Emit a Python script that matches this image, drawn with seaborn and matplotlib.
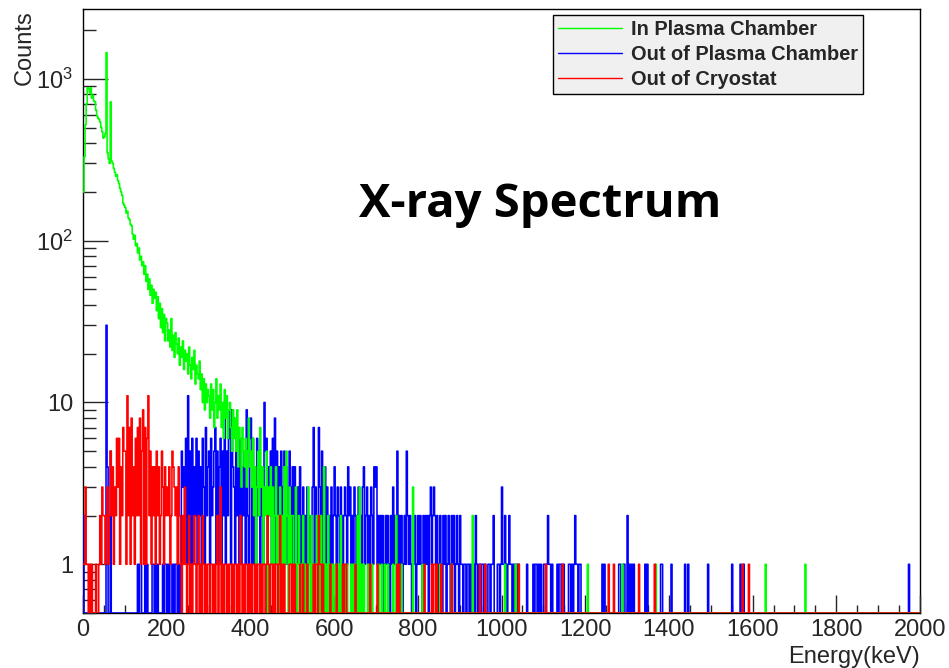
import numpy as np
import matplotlib
matplotlib.use("Agg")
import matplotlib.pyplot as plt
import seaborn as sns
from matplotlib.lines import Line2D
from matplotlib.ticker import FixedLocator, MultipleLocator, NullFormatter

# histogram binning (keV)
bin_width = 2.5
energy_max = 2000

# counts per 2.5 keV bin.
# dense parts: base-36 digit strings, one char per bin (a=10, b=11, u=30)
# sparse parts: lists of (energy, counts)

# In Plasma Chamber
green_head = [200, 330, 520, 700, 880, 870, 820, 880, 760, 790,      # 0-25
              730, 720, 640, 590, 570, 560, 540, 500, 470, 430,      # 25-50
              440, 460, 1450, 350, 320, 300, 720, 310, 300, 280,     # 50-75
              265, 250, 255, 235, 225, 210, 200, 190, 170, 165,      # 75-100
              160, 148, 152, 138, 135, 126, 124, 110, 102, 108,
              93, 96, 84, 90, 76, 80, 70, 74, 62, 70,
              56, 62, 50, 58, 46, 53, 41, 50, 44, 48,
              37, 45, 33, 41, 29, 38, 27, 35, 24, 33,                # 175-200
              31, 24, 28, 22, 33, 21, 26, 19, 27, 23,
              20, 25, 17, 22, 19, 24, 16, 21, 18, 20,
              15, 22, 17, 14, 19, 16, 21, 13, 17, 15,
              14, 18, 12, 15, 10, 14, 9, 13, 10, 12]                 # 275-300
green_dense = ["b8d9c7ae8b9d7a6c8b69a7596859476375463584",   # 300-400
               "5362413527341325032413024120312041520312",   # 400-500
               "2013012010210103102010120102104010201101"]   # 500-600
green_event_e = [605, 612, 617, 625, 632, 640, 647, 650, 655, 660, 665, 672,
                 680, 690, 705, 713, 722, 728, 742, 748, 760, 789, 812, 853,
                 880, 930, 1009, 1034, 1205, 1288, 1369, 1630, 1725]
green_event_n = [1, 1, 2, 1, 1, 1, 1, 1, 2, 3, 1, 1,
                 1, 1, 1, 1, 1, 1, 1, 2, 1, 3, 1, 1,
                 1, 2, 1, 1, 1, 1, 1, 1, 1]

# Out of Plasma Chamber
blue_dense = ["2000000000000000000000u40050000000000000",                          # 0-100
              "0000000000001011000101000011010100001011",                          # 100-200
              "0101101011010" "153" "4161" "b1" "516142" "61524163" "1724",        # 200-300
              "516235" "71514" "615" "2a1" "526" "9194" "315261" "6142" "5192" "16",
              "8161" "41625142" "1a5" "614251" "618" "15241513" "51412531",        # 400-500
              "4142131412" "31213121" "13" "71" "31" "17" "3151" "141312" "1312",
              "4213" "21321232" "142" "3121321231213" "41" "231213" "2143",        # 600-700
              "4121212012121021" "31" "21" "51" "21201215" "2121021201",
              "212102121202" "31" "23" "212012102120121021201210",                 # 800-900
              "21" "1011011010110" "21" "01101101" "00" "11011" "2" "000" "1101",
              "3" "11" "2" "101" "2" "1101" "011010" "000000100000" "10110101" "00",
              "1101" "21" "101" "0000" "1011011" "0000" "110101" "2" "11011" "0000"]
blue_event_e = [1240, 1247, 1280, 1284, 1290, 1294, 1300, 1305, 1310, 1315,
                1343, 1348, 1380, 1384, 1405, 1438, 1446, 1493, 1551, 1570,
                1579, 1974]
blue_event_n = [1, 1, 1, 1, 1, 1, 2, 1, 1, 1,
                1, 1, 1, 1, 1, 1, 1, 1, 1, 1,
                1, 1]

# Out of Cryostat
red_dense = ["11" "31" "10101" "000100" "12132" "212312" "524132" "63614275",             # 0-100
             "51b2" "7182" "4162" "7281" "5917" "16b2" "5142" "4152" "4125" "3142",       # 100-200
             "32412543" "23142" "1021310120" "10121012010210101",
             "10110101201" "3" "010110101101011010" "21" "01011010",                      # 300-400
             "1011010110101101" "21" "0110101101" "20" "1010000110",
             "1010" "0001" "001000100000" "1011" "02" "1101" "000000" "1000"]            # 500-600
red_event_e = [605, 622, 627, 629, 650, 685, 703, 751, 757, 815, 833, 838,
               840, 845, 857, 880, 949, 961, 1042, 1105, 1146, 1256, 1268,
               1328, 1367, 1575, 1590]
red_event_n = [1] * len(red_event_e)

labels = ["In Plasma Chamber", "Out of Plasma Chamber", "Out of Cryostat"]
colors = ["#00ff00", "#0000ff", "#ff0000"]

n_bins = int(energy_max / bin_width)
edges = np.arange(n_bins + 1) * bin_width


def build(head, dense, ev_e, ev_n):
    vals = list(head) + [int(c, 36) for c in "".join(dense)]
    arr = np.zeros(n_bins)
    arr[:len(vals)] = vals[:n_bins]
    for e, n in zip(ev_e, ev_n):
        arr[int(e // bin_width)] = n
    return arr


green = build(green_head, green_dense, green_event_e, green_event_n)
blue = build([], blue_dense, blue_event_e, blue_event_n)
red = build([], red_dense, red_event_e, red_event_n)

y_min, y_max = 0.5, 2700

sns.set_style("ticks")
plt.rcParams["font.family"] = ["Liberation Sans", "DejaVu Sans"]
plt.rcParams["mathtext.fontset"] = "custom"
plt.rcParams["mathtext.rm"] = "Liberation Sans"
plt.rcParams["mathtext.it"] = "Liberation Sans"

fig = plt.figure(figsize=(9.49, 6.68), dpi=100)
ax = fig.add_axes([83 / 949, 1 - 613 / 668, (920 - 83) / 949, (613 - 9) / 668])

# ROOT style: empty bins sit on the bottom of the frame
for counts, col in [(blue, colors[1]), (green, colors[0]), (red, colors[2])]:
    shown = np.where(counts > 0, counts, y_min)
    y = np.append(shown, shown[-1])
    sns.lineplot(x=edges, y=y, drawstyle="steps-post", estimator=None,
                 sort=False, color=col, lw=1.15, ax=ax, legend=False)

ax.set_yscale("log")
ax.set_xlim(0, energy_max)
ax.set_ylim(y_min, y_max)

ax.xaxis.set_major_locator(MultipleLocator(200))
ax.xaxis.set_minor_locator(MultipleLocator(50))
ax.yaxis.set_major_locator(FixedLocator([1, 10, 100, 1000]))
ax.set_yticklabels(["1", "10", r"$10^{2}$", r"$10^{3}$"])
minor_y = [m * 10.0 ** e for e in range(-1, 4) for m in range(2, 10)]
ax.yaxis.set_minor_locator(FixedLocator(minor_y))
ax.yaxis.set_minor_formatter(NullFormatter())

ax.tick_params(axis="x", which="major", direction="in", length=13, width=1,
               labelsize=17, pad=4, top=False)
ax.tick_params(axis="x", which="minor", direction="in", length=6, width=1, top=False)
ax.tick_params(axis="y", which="major", direction="in", length=18, width=1,
               labelsize=17, pad=7, right=False)
ax.tick_params(axis="y", which="minor", direction="in", length=9.5, width=1, right=False)
for sp in ax.spines.values():
    sp.set_visible(True)
    sp.set_color("black")
    sp.set_linewidth(1)
    sp.set_zorder(0.5)
ax.set_xlabel("")
ax.set_ylabel("")

fig.text(920 / 949, 1 - 663 / 668, "Energy(keV)", ha="right", va="baseline", fontsize=17)
fig.text(25 / 949, 1 - 10 / 668, "Counts", rotation=90, ha="center", va="top", fontsize=17)

fig.text(540 / 949, 1 - 204 / 668, "X-ray Spectrum", ha="center", va="center",
         fontsize=34, fontweight="bold", color="black",
         family=["Open Sans", "DejaVu Sans"])

handles = [Line2D([], [], color=c, lw=1) for c in colors]
leg = ax.legend(handles, labels, loc="upper left",
                bbox_to_anchor=(553 / 949, 1 - 15 / 668), bbox_transform=fig.transFigure,
                frameon=True, fancybox=False, edgecolor="black", facecolor="#f0f0f0",
                framealpha=1, borderpad=0.25, labelspacing=0.3, handlelength=3.2,
                handletextpad=0.45, borderaxespad=0,
                prop={"family": "Liberation Sans", "weight": "bold", "size": 14.4})
leg.get_frame().set_linewidth(1)
leg.set_zorder(10)

fig.savefig("out.png", dpi=100)
